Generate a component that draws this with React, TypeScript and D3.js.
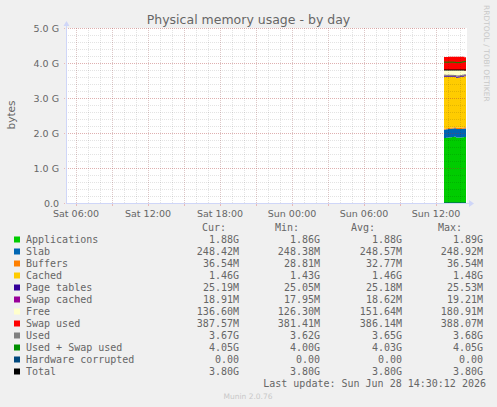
import * as d3 from "d3";

// sample times (5 min RRD rows condensed to 10 min), last update 14:30
const sampleTimes = [
  "2026-06-28 12:40", "2026-06-28 12:50", "2026-06-28 13:00", "2026-06-28 13:10",
  "2026-06-28 13:20", "2026-06-28 13:30", "2026-06-28 13:40", "2026-06-28 13:50",
  "2026-06-28 14:00", "2026-06-28 14:10", "2026-06-28 14:20", "2026-06-28 14:30",
];

// values in MiB
const applications = [1905, 1910, 1918, 1922, 1930, 1935, 1920, 1920, 1915, 1922, 1930, 1925];
const slab = [248.4, 248.5, 248.6, 248.9, 248.7, 248.6, 248.5, 248.5, 248.6, 248.5, 248.4, 248.4];
const buffers = [28.8, 29.5, 30.3, 31.1, 31.9, 32.6, 33.4, 34.2, 34.9, 35.6, 36.2, 36.5];
const cached = [1515, 1505, 1498, 1490, 1480, 1470, 1464, 1472, 1485, 1490, 1493, 1495];
const pageTables = [25.5, 25.3, 25.2, 25.1, 25.1, 25.2, 25.1, 25.1, 25.2, 25.1, 25.2, 25.2];
const swapCached = [17.9, 18.0, 18.2, 18.4, 18.6, 18.8, 19.2, 19.0, 18.9, 18.9, 18.9, 18.9];
const free = [150, 155, 153, 156, 157, 161, 181, 172, 163, 151, 127, 137];
const swapUsed = [381.4, 382.5, 384, 385.5, 386.5, 387.2, 388.1, 387.8, 387.5, 387.6, 387.6, 387.6];
const used = [3741, 3736, 3738, 3736, 3734, 3730, 3718, 3719, 3728, 3740, 3748, 3749];
const usedSwap = [4122, 4119, 4122, 4121, 4121, 4117, 4106, 4107, 4116, 4128, 4136, 4137];
const hwCorrupted = [0, 0, 0, 0, 0, 0, 0, 0, 0, 0, 0, 0];
const total = [3891, 3891, 3891, 3891, 3891, 3891, 3891, 3891, 3891, 3891, 3891, 3891];

const yTicks = [0, 1, 2, 3, 4, 5];
const yTickLabels = ["0.0", "1.0 G", "2.0 G", "3.0 G", "4.0 G", "5.0 G"];

// legend
const legendNames = [
  "Applications", "Slab", "Buffers", "Cached", "Page tables", "Swap cached",
  "Free", "Swap used", "Used", "Used + Swap used", "Hardware corrupted", "Total",
];
const legendColors = [
  "#00CC00", "#0066B3", "#FF8000", "#FFCC00", "#330099", "#990099",
  "#FFFFCC", "#FF0000", "#808080", "#008F00", "#00487D", "#000000",
];
const curValues = ["1.88G", "248.42M", "36.54M", "1.46G", "25.19M", "18.91M", "136.60M", "387.57M", "3.67G", "4.05G", "0.00 ", "3.80G"];
const minValues = ["1.86G", "248.38M", "28.81M", "1.43G", "25.05M", "17.95M", "126.30M", "381.41M", "3.62G", "4.00G", "0.00 ", "3.80G"];
const avgValues = ["1.88G", "248.57M", "32.77M", "1.46G", "25.18M", "18.62M", "151.64M", "386.14M", "3.65G", "4.03G", "0.00 ", "3.80G"];
const maxValues = ["1.89G", "248.92M", "36.54M", "1.48G", "25.53M", "19.21M", "180.91M", "388.07M", "3.68G", "4.05G", "0.00 ", "3.80G"];

const W = 497;
const H = 407;
const plot = { left: 66, right: 466, top: 28, bottom: 203 };
const sans = "'DejaVu Sans', sans-serif";
const mono = "'DejaVu Sans Mono', monospace";
const fontColor = "#666666";
const axisColor = "#CFD6F8";
const gridColor = "rgba(0,0,0,0.11)";
const mgridColor = "rgba(215,60,60,0.3)";
const mgridColorX = "rgba(200,90,90,0.2)";

export default function App() {
  const parse = d3.timeParse("%Y-%m-%d %H:%M");
  const t = sampleTimes.map((s) => parse(s)!);

  const x = d3.scaleTime()
    .domain([parse("2026-06-27 05:10")!, parse("2026-06-28 14:30")!])
    .range([plot.left, plot.right]);
  const y = d3.scaleLinear().domain([0, 5 * 1024]).range([plot.bottom, plot.top]);

  const areaKeys = ["applications", "slab", "buffers", "cached", "pageTables", "swapCached", "free", "swapUsed"];
  const areaSeries = [applications, slab, buffers, cached, pageTables, swapCached, free, swapUsed];
  const rows = t.map((d, i) => {
    const r: any = { t: d };
    areaKeys.forEach((k, j) => (r[k] = areaSeries[j][i]));
    return r;
  });
  const stacked = d3.stack().keys(areaKeys)(rows);
  const area = d3.area<any>()
    .x((d) => x(d.data.t))
    .y0((d) => y(d[0]))
    .y1((d) => y(d[1]))
    .curve(d3.curveStepAfter);

  const lineSeries = [used, usedSwap, hwCorrupted, total];
  const lineColors = legendColors.slice(8);
  const line = d3.line<number>()
    .x((_, i) => x(t[i]))
    .y((d) => y(d))
    .curve(d3.curveStepAfter);

  // grid: minor every 0.2 G / 1 h, major every 1 G / 3 h
  const minorY = d3.range(0, 5.01, 0.2).map((g) => y(g * 1024));
  const majorY = yTicks.map((g) => y(g * 1024));
  const minorX = d3.timeHour.every(1)!.range(x.domain()[0], x.domain()[1]);
  const majorX = d3.timeHour.every(3)!.range(x.domain()[0], x.domain()[1]);
  const labelX = x.ticks(d3.timeHour.every(6)!);
  const fmt = d3.timeFormat("%a %H:%M");
  const px = (v: number) => Math.round(v) + 0.5;

  const rowY = (i: number) => 243 + i * 12;
  const cols = [
    { head: "Cur:", headX: 226, x: 239, vals: curValues },
    { head: "Min:", headX: 299, x: 320, vals: minValues },
    { head: "Avg:", headX: 375, x: 402, vals: avgValues },
    { head: "Max:", headX: 462, x: 483, vals: maxValues },
  ];

  return (
    <svg width={W} height={H} style={{ position: "absolute", left: 0, top: 0 }}>
      <rect width={W} height={H} fill="#F0F0F0" />
      <rect x={plot.left} y={plot.top} width={plot.right - plot.left + 1} height={plot.bottom - plot.top} fill="#FFFFFF" />

      {stacked.map((s, i) => (
        <path key={s.key} d={area(s as any)!} fill={legendColors[i]} />
      ))}
      {lineSeries.map((s, i) => (
        <path key={i} d={line(s)!} fill="none" stroke={lineColors[i]} strokeWidth={1} />
      ))}

      <g shapeRendering="crispEdges" strokeDasharray="1,1">
        {minorY.map((v, i) => (
          <line key={"my" + i} x1={plot.left} x2={plot.right} y1={px(v)} y2={px(v)} stroke={gridColor} />
        ))}
        {minorX.map((d, i) => (
          <line key={"mx" + i} x1={px(x(d))} x2={px(x(d))} y1={plot.top} y2={plot.bottom} stroke={gridColor} />
        ))}
        {majorY.map((v, i) => (
          <line key={"My" + i} x1={plot.left - 2} x2={plot.right} y1={px(v)} y2={px(v)} stroke={mgridColor} />
        ))}
        {majorX.map((d, i) => (
          <line key={"Mx" + i} x1={px(x(d))} x2={px(x(d))} y1={plot.top} y2={plot.bottom} stroke={mgridColorX} />
        ))}
      </g>
      {/* major ticks below the x axis */}
      <g shapeRendering="crispEdges">
        {majorX.map((d, i) => (
          <line key={"tk" + i} x1={px(x(d))} x2={px(x(d))} y1={plot.bottom} y2={plot.bottom + 3} stroke={mgridColor} />
        ))}
      </g>

      {/* axes */}
      <g shapeRendering="crispEdges">
        <line x1={plot.left + 0.5} x2={plot.left + 0.5} y1={plot.top - 4} y2={plot.bottom} stroke={axisColor} />
        <line x1={plot.left} x2={plot.right + 3} y1={plot.bottom + 0.5} y2={plot.bottom + 0.5} stroke={axisColor} />
      </g>
      <path d={`M${plot.left - 2.5},${plot.top - 2} L${plot.left + 0.5},${plot.top - 7} L${plot.left + 3.5},${plot.top - 2} Z`} fill={axisColor} />
      <path d={`M${plot.right + 3},${plot.bottom - 3} L${plot.right + 8},${plot.bottom + 0.5} L${plot.right + 3},${plot.bottom + 4} Z`} fill={axisColor} />

      {/* tick labels */}
      {yTicks.map((g, i) => (
        <text key={g} x={59} y={y(g * 1024) + 3.5} textAnchor="end" fontFamily={sans} fontSize={9.5} fill={fontColor}>
          {yTickLabels[i]}
        </text>
      ))}
      {labelX.map((d, i) => (
        <text key={i} x={x(d)} y={217} textAnchor="middle" fontFamily={sans} fontSize={9.5} fill={fontColor}>
          {fmt(d)}
        </text>
      ))}

      <text x={W / 2} y={24} textAnchor="middle" fontFamily={sans} fontSize={12.5} fill={fontColor}>
        Physical memory usage - by day
      </text>
      <text transform="translate(15,115) rotate(-90)" textAnchor="middle" fontFamily={sans} fontSize={10.5} fill={fontColor}>
        bytes
      </text>
      <text transform="translate(484,5) rotate(90)" textAnchor="start" fontFamily={sans} fontSize={7.5} fill="#C8C8C8">
        RRDTOOL / TOBI OETIKER
      </text>

      {/* legend */}
      <g fontFamily={mono} fontSize={10} fill={fontColor} style={{ whiteSpace: "pre" }}>
        {cols.map((c) => (
          <text key={c.head} x={c.headX} y={230.5} textAnchor="end">{c.head}</text>
        ))}
        {legendNames.map((n, i) => (
          <g key={n}>
            <rect x={14} y={rowY(i) - 6.5} width={6} height={6} fill={legendColors[i]} />
            <text x={26} y={rowY(i)}>{n}</text>
            {cols.map((c) => (
              <text key={c.head} x={c.x} y={rowY(i)} textAnchor="end">{c.vals[i]}</text>
            ))}
          </g>
        ))}
        <text x={486} y={387} textAnchor="end">Last update: Sun Jun 28 14:30:12 2026</text>
      </g>
      <text x={248} y={399} textAnchor="middle" fontFamily={sans} fontSize={7.5} fill="#C8C8C8">
        Munin 2.0.76
      </text>
    </svg>
  );
}
